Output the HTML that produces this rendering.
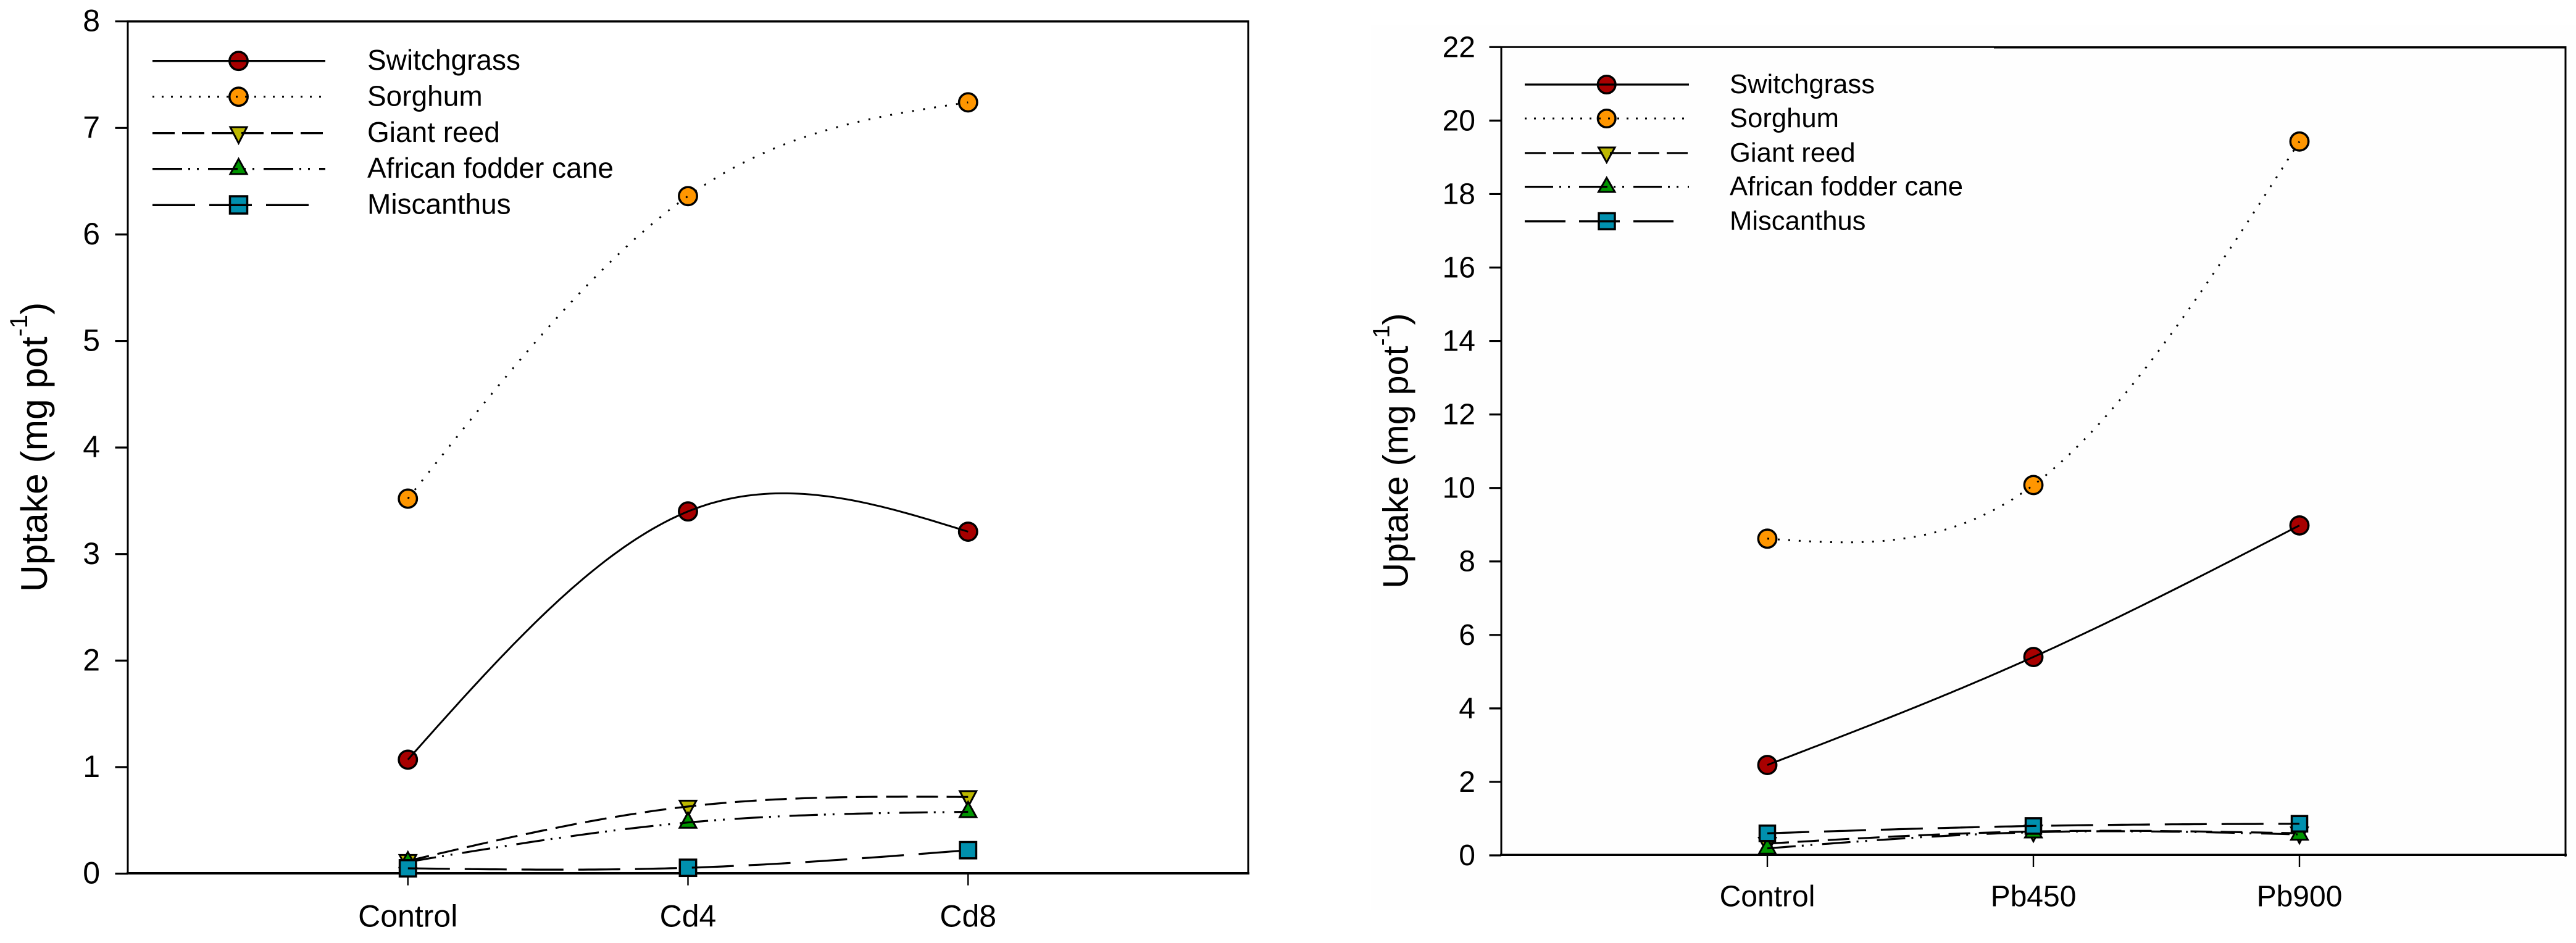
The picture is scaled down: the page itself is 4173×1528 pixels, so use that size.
<!DOCTYPE html>
<html lang="en">
<head>
<meta charset="utf-8">
<title>Metal uptake by bioenergy crops</title>
<style>
  html, body { margin: 0; padding: 0; background: #ffffff; }
  svg { display: block; font-family: "Liberation Sans", Arial, sans-serif; fill: #000; font-kerning: none; }
</style>
</head>
<body>
<svg id="figure" xmlns="http://www.w3.org/2000/svg" width="4173" height="1528" viewBox="0 0 4173 1528">
  <rect x="0" y="0" width="4173" height="1528" fill="#ffffff"/>
  <rect x="2221" y="40" width="1952" height="1435" fill="#fefefe"/>

  <!-- Left panel frame -->
  <g id="left-chart">
    <g stroke="#000" fill="none">
      <line x1="207" y1="34.7" x2="2023" y2="34.7" stroke-width="3.5"/>
      <line x1="207" y1="33" x2="207" y2="1417" stroke-width="3"/>
      <line x1="2022" y1="33" x2="2022" y2="1417" stroke-width="3"/>
      <line x1="205" y1="1415" x2="2024" y2="1415" stroke-width="4"/>
    </g>
    <text transform="translate(76 959) rotate(-90)" font-size="60.5">Uptake (mg pot<tspan dy="-32" font-size="40">-1</tspan><tspan dy="32">)</tspan></text>
    <g id="left-ticks"></g>
    <g id="left-series"></g>
    <g>
      <g>
        <circle cx="386.5" cy="98.7" r="14.7" fill="#A80000" stroke="#000" stroke-width="3.5"/>
        <line x1="247" y1="98.7" x2="527" y2="98.7" stroke="#000" stroke-width="3.3"/>
        <text x="595" y="113" font-size="46">Switchgrass</text>
      </g>
      <g>
        <circle cx="386.5" cy="156.7" r="14.7" fill="#FF9600" stroke="#000" stroke-width="3.5"/>
        <line x1="247" y1="156.7" x2="527" y2="156.7" stroke="#000" stroke-width="3" stroke-dasharray="3 12"/>
        <text x="595" y="171.5" font-size="46">Sorghum</text>
      </g>
      <g>
        <polygon points="373,206 400,206 386.5,232" fill="#BDB800" stroke="#000" stroke-width="3"/>
        <line x1="247" y1="215.7" x2="527" y2="215.7" stroke="#000" stroke-width="3.3" stroke-dasharray="36 12"/>
        <text x="595" y="230" font-size="46">Giant reed</text>
      </g>
      <g>
        <polygon points="373,282 400,282 386.5,257.5" fill="#009600" stroke="#000" stroke-width="3"/>
        <line x1="247" y1="273.7" x2="527" y2="273.7" stroke="#000" stroke-width="3.3" stroke-dasharray="48 10 3 11 3 15"/>
        <text x="595" y="288" font-size="46">African fodder cane</text>
      </g>
      <g>
        <rect x="372.5" y="318" width="28" height="28" fill="#0090AE" stroke="#000" stroke-width="3.5"/>
        <line x1="247" y1="332.3" x2="501" y2="332.3" stroke="#000" stroke-width="3.3" stroke-dasharray="69 23"/>
        <text x="595" y="346.7" font-size="46">Miscanthus</text>
      </g>
    </g>
  </g>

  <!-- Right panel frame -->
  <g id="right-chart">
    <g stroke="#000" fill="none">
      <line x1="2432" y1="76.3" x2="3230" y2="76.3" stroke-width="2.8"/>
      <line x1="3230" y1="76.8" x2="4157" y2="76.8" stroke-width="3.5"/>
      <line x1="2432" y1="75" x2="2432" y2="1387" stroke-width="3"/>
      <line x1="4156" y1="75" x2="4156" y2="1388" stroke-width="3"/>
      <line x1="2430" y1="1385.3" x2="4158" y2="1385.3" stroke-width="3.5"/>
    </g>
    <text transform="translate(2280.7 953.5) rotate(-90)" font-size="57.5">Uptake (mg pot<tspan dy="-30" font-size="38">-1</tspan><tspan dy="30">)</tspan></text>
    <g id="right-ticks"></g>
    <g id="right-series"></g>
    <g>
      <g>
        <circle cx="2602.7" cy="137" r="14.3" fill="#A80000" stroke="#000" stroke-width="3.5"/>
        <line x1="2470" y1="137" x2="2736" y2="137" stroke="#000" stroke-width="3.3"/>
        <text x="2802" y="151" font-size="43.6">Switchgrass</text>
      </g>
      <g>
        <circle cx="2602.7" cy="192" r="14.3" fill="#FF9600" stroke="#000" stroke-width="3.5"/>
        <line x1="2470" y1="192" x2="2736" y2="192" stroke="#000" stroke-width="3" stroke-dasharray="3 12"/>
        <text x="2802" y="206" font-size="43.6">Sorghum</text>
      </g>
      <g>
        <polygon points="2589.5,239 2616,239 2602.7,263" fill="#BDB800" stroke="#000" stroke-width="3"/>
        <line x1="2470" y1="248" x2="2736" y2="248" stroke="#000" stroke-width="3.3" stroke-dasharray="34 12"/>
        <text x="2802" y="262" font-size="43.6">Giant reed</text>
      </g>
      <g>
        <polygon points="2589.5,311 2616,311 2602.7,288" fill="#009600" stroke="#000" stroke-width="3"/>
        <line x1="2470" y1="302.7" x2="2736" y2="302.7" stroke="#000" stroke-width="3.3" stroke-dasharray="46 10 3 11 3 15"/>
        <text x="2802" y="316.7" font-size="43.6">African fodder cane</text>
      </g>
      <g>
        <rect x="2590" y="345.5" width="26" height="26" fill="#0090AE" stroke="#000" stroke-width="3.5"/>
        <line x1="2470" y1="358.7" x2="2711" y2="358.7" stroke="#000" stroke-width="3.3" stroke-dasharray="66 22"/>
        <text x="2802" y="372.7" font-size="43.6">Miscanthus</text>
      </g>
    </g>
  </g>
</svg>

<script>
// ---- Data ----
const cdCategories = ['Control', 'Cd4', 'Cd8'];
const cdTickLabels = [0, 1, 2, 3, 4, 5, 6, 7, 8];
const cdSwitchgrass = [1.07, 3.40, 3.21];
const cdSorghum = [3.52, 6.36, 7.24];
const cdGiantReed = [0.12, 0.63, 0.72];
const cdAfricanFodderCane = [0.11, 0.48, 0.58];
const cdMiscanthus = [0.05, 0.055, 0.22];

const pbCategories = ['Control', 'Pb450', 'Pb900'];
const pbTickLabels = [0, 2, 4, 6, 8, 10, 12, 14, 16, 18, 20, 22];
const pbSwitchgrass = [2.46, 5.40, 8.98];
const pbSorghum = [8.62, 10.08, 19.43];
const pbGiantReed = [0.32, 0.65, 0.60];
const pbAfricanFodderCane = [0.19, 0.63, 0.57];
const pbMiscanthus = [0.60, 0.80, 0.86];

const SVG_NS = 'http://www.w3.org/2000/svg';

function svgEl(tag, attrs) {
  const el = document.createElementNS(SVG_NS, tag);
  for (const key in attrs) el.setAttribute(key, attrs[key]);
  return el;
}

function linearScale(d0, d1, r0, r1) {
  return function (v) { return r0 + (v - d0) * (r1 - r0) / (d1 - d0); };
}

// Natural cubic spline through pixel points, sampled into a path string
function splinePath(xs, ys) {
  const n = xs.length;
  const m = new Array(n).fill(0);
  const a = new Array(n).fill(0), b = new Array(n).fill(1), c = new Array(n).fill(0), r = new Array(n).fill(0);
  for (let i = 1; i < n - 1; i++) {
    const h0 = xs[i] - xs[i - 1], h1 = xs[i + 1] - xs[i];
    a[i] = h0; b[i] = 2 * (h0 + h1); c[i] = h1;
    r[i] = 6 * ((ys[i + 1] - ys[i]) / h1 - (ys[i] - ys[i - 1]) / h0);
  }
  for (let i = 1; i < n; i++) {
    const w = a[i] / b[i - 1];
    b[i] -= w * c[i - 1];
    r[i] -= w * r[i - 1];
  }
  m[n - 1] = r[n - 1] / b[n - 1];
  for (let i = n - 2; i >= 0; i--) m[i] = (r[i] - c[i] * m[i + 1]) / b[i];
  let d = 'M' + xs[0].toFixed(1) + ' ' + ys[0].toFixed(1);
  const steps = 48;
  for (let i = 0; i < n - 1; i++) {
    const h = xs[i + 1] - xs[i];
    for (let s = 1; s <= steps; s++) {
      const t = s / steps, u = 1 - t;
      const y = u * ys[i] + t * ys[i + 1] + ((u * u * u - u) * m[i] + (t * t * t - t) * m[i + 1]) * h * h / 6;
      d += 'L' + (xs[i] + t * h).toFixed(1) + ' ' + y.toFixed(1);
    }
  }
  return d;
}

function drawMarker(parent, kind, x, y, size) {
  let el;
  if (kind === 'circle') {
    el = svgEl('circle', { cx: x, cy: y, r: 14.7, fill: size.fill, stroke: '#000', 'stroke-width': 3.5 });
  } else if (kind === 'down') {
    el = svgEl('polygon', { points: (x - 13.5) + ',' + (y - 9.5) + ' ' + (x + 13.5) + ',' + (y - 9.5) + ' ' + x + ',' + (y + 16), fill: size.fill, stroke: '#000', 'stroke-width': 3 });
  } else if (kind === 'up') {
    el = svgEl('polygon', { points: (x - 13.5) + ',' + (y + 8.5) + ' ' + (x + 13.5) + ',' + (y + 8.5) + ' ' + x + ',' + (y - 16), fill: size.fill, stroke: '#000', 'stroke-width': 3 });
  } else {
    el = svgEl('rect', { x: x - size.half, y: y - size.half, width: size.half * 2, height: size.half * 2, fill: size.fill, stroke: '#000', 'stroke-width': 3.5 });
  }
  
  
  parent.appendChild(el);
}

function drawChart(cfg) {
  const xAxis = linearScale(-1, 3, cfg.xLeft, cfg.xRight);
  const yAxis = linearScale(0, cfg.yMax, cfg.yBottom, cfg.yTop);
  const ticks = document.getElementById(cfg.ticksId);
  const seriesGroup = document.getElementById(cfg.seriesId);

  cfg.tickLabels.forEach(function (v) {
    const y = yAxis(v);
    const mark = svgEl('line', { x1: cfg.xLeft - cfg.yTickLen, y1: y, x2: cfg.xLeft, y2: y, stroke: '#000', 'stroke-width': 3.2 });
    
    
    ticks.appendChild(mark);
    const label = svgEl('text', { x: cfg.yLabelX, y: y + 16, 'text-anchor': 'end', 'font-size': cfg.tickFont });
    
    
    label.textContent = v;
    ticks.appendChild(label);
  });

  cfg.categories.forEach(function (name, i) {
    const x = xAxis(i);
    const mark = svgEl('line', { x1: x, y1: cfg.yBottom, x2: x, y2: cfg.yBottom + 19, stroke: '#000', 'stroke-width': 2.4 });
    
    
    ticks.appendChild(mark);
    const label = svgEl('text', { x: x, y: cfg.xLabelY, 'text-anchor': 'middle', 'font-size': cfg.tickFont });
    
    
    label.textContent = name;
    ticks.appendChild(label);
  });

  cfg.series.forEach(function (s) {
    const group = svgEl('g', {});
    
    
    seriesGroup.appendChild(group);
    const xs = s.values.map(function (v, i) { return xAxis(i); });
    const ys = s.values.map(function (v) { return yAxis(v); });
    s.values.forEach(function (v, i) {
      drawMarker(group, s.marker, xs[i], ys[i], { fill: s.fill, half: cfg.squareHalf });
    });
    const attrs = { d: splinePath(xs, ys), fill: 'none', stroke: '#000', 'stroke-width': s.width };
    if (s.dash) attrs['stroke-dasharray'] = s.dash;
    const path = svgEl('path', attrs);
    
    
    group.appendChild(path);
  });
}

drawChart({
  ticksId: 'left-ticks', seriesId: 'left-series',
  xLeft: 207, xRight: 2022, yBottom: 1415.6, yTop: 34.7, yMax: 8,
  yTickLen: 20.5, yLabelX: 162, xLabelY: 1501.7, tickFont: 50, squareHalf: 13.2,
  tickLabels: cdTickLabels, categories: cdCategories,
  series: [
    { key: 'switchgrass', marker: 'circle', fill: '#A80000', values: cdSwitchgrass, width: 3 },
    { key: 'sorghum', marker: 'circle', fill: '#FF9600', values: cdSorghum, width: 3, dash: '3 15' },
    { key: 'giant-reed', marker: 'down', fill: '#BDB800', values: cdGiantReed, width: 3.2, dash: '35 14' },
    { key: 'african-fodder-cane', marker: 'up', fill: '#009600', values: cdAfricanFodderCane, width: 3.2, dash: '46 10 3 11 3 16' },
    { key: 'miscanthus', marker: 'square', fill: '#0090AE', values: cdMiscanthus, width: 3.2, dash: '68 24' }
  ]
});

drawChart({
  ticksId: 'right-ticks', seriesId: 'right-series',
  xLeft: 2432, xRight: 4156, yBottom: 1386, yTop: 76.3, yMax: 22,
  yTickLen: 19.5, yLabelX: 2390, xLabelY: 1468.3, tickFont: 48, squareHalf: 12.5,
  tickLabels: pbTickLabels, categories: pbCategories,
  series: [
    { key: 'switchgrass', marker: 'circle', fill: '#A80000', values: pbSwitchgrass, width: 3 },
    { key: 'sorghum', marker: 'circle', fill: '#FF9600', values: pbSorghum, width: 3, dash: '3 14' },
    { key: 'giant-reed', marker: 'down', fill: '#BDB800', values: pbGiantReed, width: 3.2, dash: '35 14' },
    { key: 'african-fodder-cane', marker: 'up', fill: '#009600', values: pbAfricanFodderCane, width: 3.2, dash: '46 10 3 11 3 16' },
    { key: 'miscanthus', marker: 'square', fill: '#0090AE', values: pbMiscanthus, width: 3.2, dash: '68 24' }
  ]
});
</script>
</body>
</html>
